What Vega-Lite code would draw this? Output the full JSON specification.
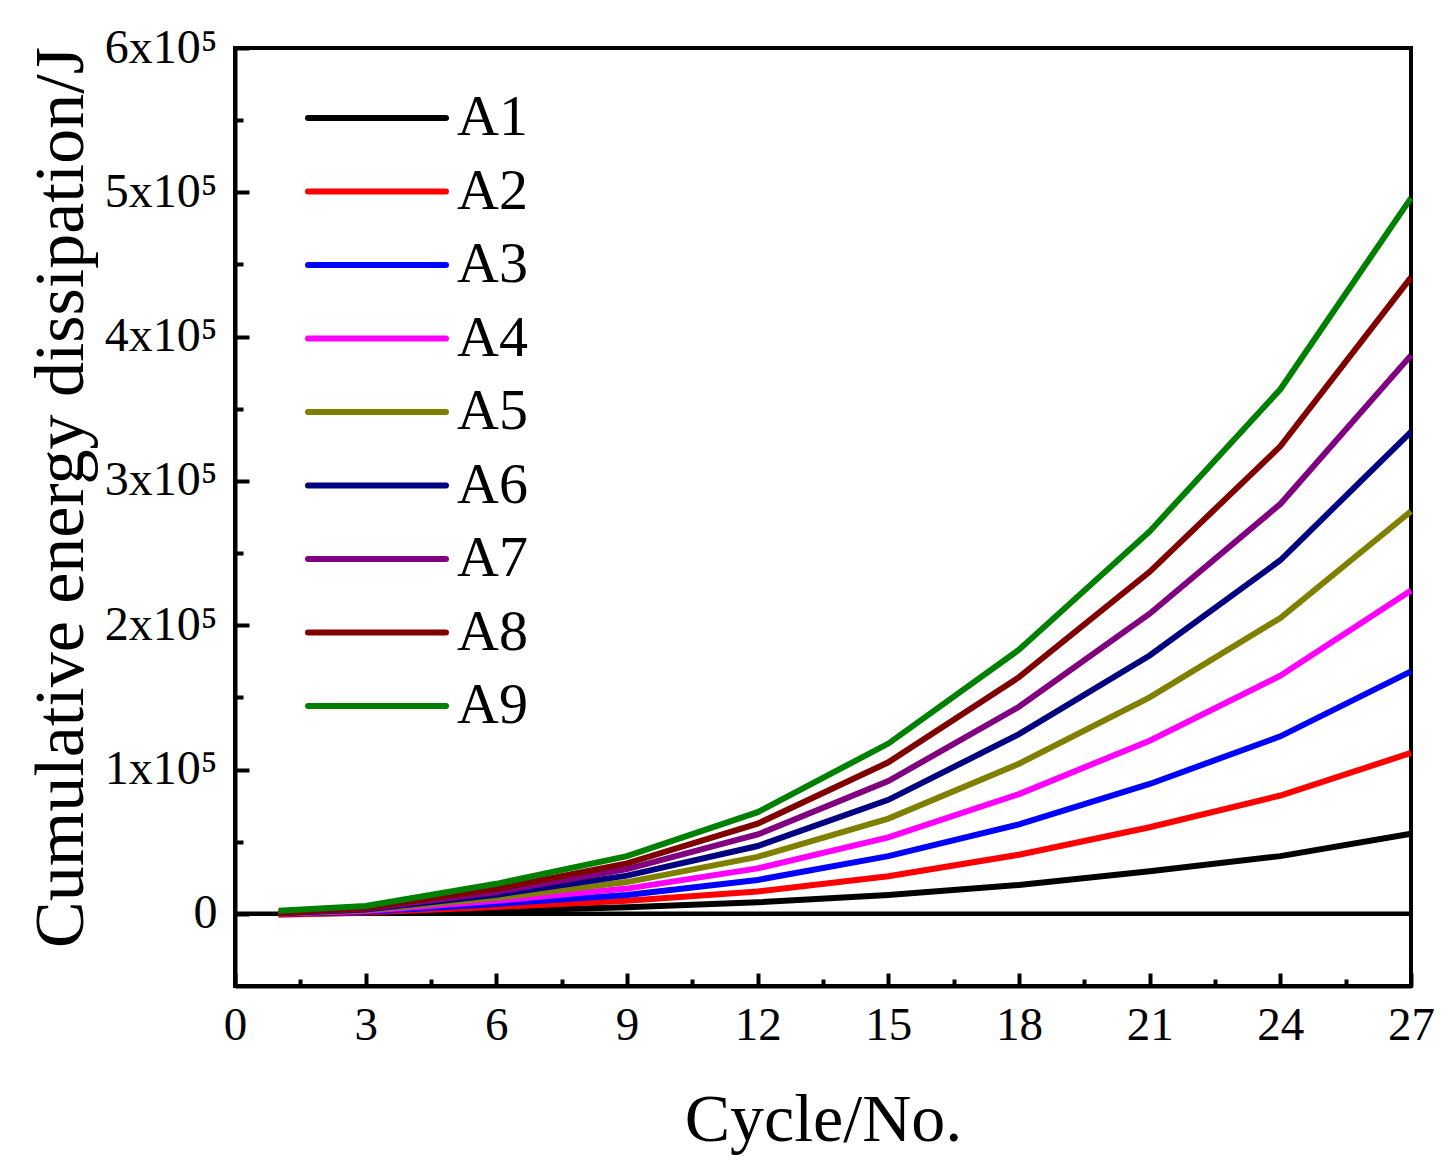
{
  "$schema": "https://vega.github.io/schema/vega-lite/v6.json",
  "width": 1176,
  "height": 938,
  "autosize": {"type": "none"},
  "padding": {"left": 235, "top": 48, "right": 41, "bottom": 188},
  "background": "white",
  "config": {
    "font": "Liberation Serif",
    "view": {"stroke": "black", "strokeWidth": 4},
    "axis": {
      "grid": false,
      "labelFlush": false,
      "domainColor": "black",
      "domainWidth": 4,
      "tickColor": "black",
      "tickWidth": 4,
      "labelColor": "black",
      "titleColor": "black",
      "labelFont": "Liberation Serif",
      "titleFont": "Liberation Serif",
      "titleFontWeight": "normal"
    }
  },
  "resolve": {"axis": {"x": "independent", "y": "independent"}},
  "layer": [
    {
      "data": {"values": [{"zero": 0, "xa": 0, "xb": 27}]},
      "mark": {"type": "rule", "color": "black", "strokeWidth": 4.5},
      "encoding": {
        "x": {
          "field": "xa", "type": "quantitative",
          "scale": {"domain": [0, 27], "nice": false, "zero": false},
          "axis": {
            "orient": "bottom", "values": [1.5, 4.5, 7.5, 10.5, 13.5, 16.5, 19.5, 22.5, 25.5],
            "labels": false, "domain": false, "tickSize": -7, "title": null
          }
        },
        "x2": {"field": "xb"},
        "y": {
          "field": "zero", "type": "quantitative",
          "scale": {"domain": [-50000, 600000], "nice": false, "zero": false},
          "axis": {
            "orient": "left", "values": [50000, 150000, 250000, 350000, 450000, 550000],
            "labels": false, "domain": false, "tickSize": -8, "title": null
          }
        }
      }
    },
    {
      "data": {
        "values": [
          {"cycle": 1, "energy": 0, "sample": "A1"},
          {"cycle": 3, "energy": 500, "sample": "A1"},
          {"cycle": 6, "energy": 2100, "sample": "A1"},
          {"cycle": 9, "energy": 4500, "sample": "A1"},
          {"cycle": 12, "energy": 8000, "sample": "A1"},
          {"cycle": 15, "energy": 13000, "sample": "A1"},
          {"cycle": 18, "energy": 20000, "sample": "A1"},
          {"cycle": 21, "energy": 29500, "sample": "A1"},
          {"cycle": 24, "energy": 40000, "sample": "A1"},
          {"cycle": 27, "energy": 55500, "sample": "A1"},
          {"cycle": 1, "energy": -600, "sample": "A2"},
          {"cycle": 3, "energy": 1000, "sample": "A2"},
          {"cycle": 6, "energy": 4800, "sample": "A2"},
          {"cycle": 9, "energy": 9000, "sample": "A2"},
          {"cycle": 12, "energy": 15500, "sample": "A2"},
          {"cycle": 15, "energy": 26000, "sample": "A2"},
          {"cycle": 18, "energy": 41000, "sample": "A2"},
          {"cycle": 21, "energy": 60000, "sample": "A2"},
          {"cycle": 24, "energy": 82000, "sample": "A2"},
          {"cycle": 27, "energy": 111500, "sample": "A2"},
          {"cycle": 1, "energy": 100, "sample": "A3"},
          {"cycle": 3, "energy": 1500, "sample": "A3"},
          {"cycle": 6, "energy": 6900, "sample": "A3"},
          {"cycle": 9, "energy": 13000, "sample": "A3"},
          {"cycle": 12, "energy": 23500, "sample": "A3"},
          {"cycle": 15, "energy": 40000, "sample": "A3"},
          {"cycle": 18, "energy": 62000, "sample": "A3"},
          {"cycle": 21, "energy": 90000, "sample": "A3"},
          {"cycle": 24, "energy": 123000, "sample": "A3"},
          {"cycle": 27, "energy": 168000, "sample": "A3"},
          {"cycle": 1, "energy": 200, "sample": "A4"},
          {"cycle": 3, "energy": 2000, "sample": "A4"},
          {"cycle": 6, "energy": 9000, "sample": "A4"},
          {"cycle": 9, "energy": 17500, "sample": "A4"},
          {"cycle": 12, "energy": 31500, "sample": "A4"},
          {"cycle": 15, "energy": 53000, "sample": "A4"},
          {"cycle": 18, "energy": 83000, "sample": "A4"},
          {"cycle": 21, "energy": 120000, "sample": "A4"},
          {"cycle": 24, "energy": 165000, "sample": "A4"},
          {"cycle": 27, "energy": 224000, "sample": "A4"},
          {"cycle": 1, "energy": 300, "sample": "A5"},
          {"cycle": 3, "energy": 2500, "sample": "A5"},
          {"cycle": 6, "energy": 11100, "sample": "A5"},
          {"cycle": 9, "energy": 22000, "sample": "A5"},
          {"cycle": 12, "energy": 39500, "sample": "A5"},
          {"cycle": 15, "energy": 66000, "sample": "A5"},
          {"cycle": 18, "energy": 104000, "sample": "A5"},
          {"cycle": 21, "energy": 150000, "sample": "A5"},
          {"cycle": 24, "energy": 205000, "sample": "A5"},
          {"cycle": 27, "energy": 279000, "sample": "A5"},
          {"cycle": 1, "energy": 400, "sample": "A6"},
          {"cycle": 3, "energy": 3000, "sample": "A6"},
          {"cycle": 6, "energy": 13200, "sample": "A6"},
          {"cycle": 9, "energy": 26500, "sample": "A6"},
          {"cycle": 12, "energy": 47000, "sample": "A6"},
          {"cycle": 15, "energy": 79000, "sample": "A6"},
          {"cycle": 18, "energy": 124500, "sample": "A6"},
          {"cycle": 21, "energy": 179000, "sample": "A6"},
          {"cycle": 24, "energy": 245000, "sample": "A6"},
          {"cycle": 27, "energy": 334000, "sample": "A6"},
          {"cycle": 1, "energy": 500, "sample": "A7"},
          {"cycle": 3, "energy": 3500, "sample": "A7"},
          {"cycle": 6, "energy": 15200, "sample": "A7"},
          {"cycle": 9, "energy": 31000, "sample": "A7"},
          {"cycle": 12, "energy": 55000, "sample": "A7"},
          {"cycle": 15, "energy": 92000, "sample": "A7"},
          {"cycle": 18, "energy": 143500, "sample": "A7"},
          {"cycle": 21, "energy": 208000, "sample": "A7"},
          {"cycle": 24, "energy": 284000, "sample": "A7"},
          {"cycle": 27, "energy": 387000, "sample": "A7"},
          {"cycle": 1, "energy": 600, "sample": "A8"},
          {"cycle": 3, "energy": 4000, "sample": "A8"},
          {"cycle": 6, "energy": 17300, "sample": "A8"},
          {"cycle": 9, "energy": 35000, "sample": "A8"},
          {"cycle": 12, "energy": 62500, "sample": "A8"},
          {"cycle": 15, "energy": 105000, "sample": "A8"},
          {"cycle": 18, "energy": 164000, "sample": "A8"},
          {"cycle": 21, "energy": 237000, "sample": "A8"},
          {"cycle": 24, "energy": 324000, "sample": "A8"},
          {"cycle": 27, "energy": 441000, "sample": "A8"},
          {"cycle": 1, "energy": 2200, "sample": "A9"},
          {"cycle": 3, "energy": 5500, "sample": "A9"},
          {"cycle": 6, "energy": 20800, "sample": "A9"},
          {"cycle": 9, "energy": 40000, "sample": "A9"},
          {"cycle": 12, "energy": 70500, "sample": "A9"},
          {"cycle": 15, "energy": 118000, "sample": "A9"},
          {"cycle": 18, "energy": 183000, "sample": "A9"},
          {"cycle": 21, "energy": 265000, "sample": "A9"},
          {"cycle": 24, "energy": 363500, "sample": "A9"},
          {"cycle": 27, "energy": 496000, "sample": "A9"}
        ]
      },
      "mark": {"type": "line", "strokeWidth": 6},
      "encoding": {
        "x": {
          "field": "cycle", "type": "quantitative",
          "scale": {"domain": [0, 27], "nice": false, "zero": false},
          "axis": {
            "orient": "bottom",
            "values": [0, 3, 6, 9, 12, 15, 18, 21, 24, 27],
            "tickSize": -13,
            "labelFontSize": 47,
            "labelPadding": 29,
            "title": "Cycle/No.",
            "titleFontSize": 68,
            "titleBaseline": "alphabetic",
            "titleY": 154
          }
        },
        "y": {
          "field": "energy", "type": "quantitative",
          "scale": {"domain": [-50000, 600000], "nice": false, "zero": false},
          "axis": {
            "orient": "left",
            "values": [0, 100000, 200000, 300000, 400000, 500000, 600000],
            "labelExpr": "datum.value == 0 ? '0' : format(datum.value / 100000, 'd') + 'x10⁵'",
            "tickSize": -14,
            "labelFontSize": 48,
            "labelPadding": 32,
            "title": "Cumulative energy dissipation/J",
            "titleFontSize": 70,
            "titleAngle": -90,
            "titleBaseline": "alphabetic",
            "titleAlign": "center",
            "titleX": -153,
            "titleY": 449
          }
        },
        "color": {
          "field": "sample", "type": "nominal",
          "scale": {
            "domain": ["A1", "A2", "A3", "A4", "A5", "A6", "A7", "A8", "A9"],
            "range": ["#000000", "#ff0000", "#0000ff", "#ff00ff", "#808000", "#000080", "#800080", "#800000", "#008000"]
          },
          "legend": {
            "title": null,
            "orient": "none",
            "legendX": 70,
            "legendY": 40,
            "padding": 0,
            "symbolType": "stroke",
            "symbolSize": 19044,
            "symbolStrokeWidth": 6,
            "clipHeight": 60,
            "rowPadding": 13.5,
            "labelFontSize": 58,
            "labelFont": "Liberation Serif",
            "labelColor": "black",
            "labelOffset": 8,
            "labelLimit": 300,
            "encode": {"symbols": {"update": {"strokeCap": {"value": "round"}}}}
          }
        }
      }
    }
  ]
}
